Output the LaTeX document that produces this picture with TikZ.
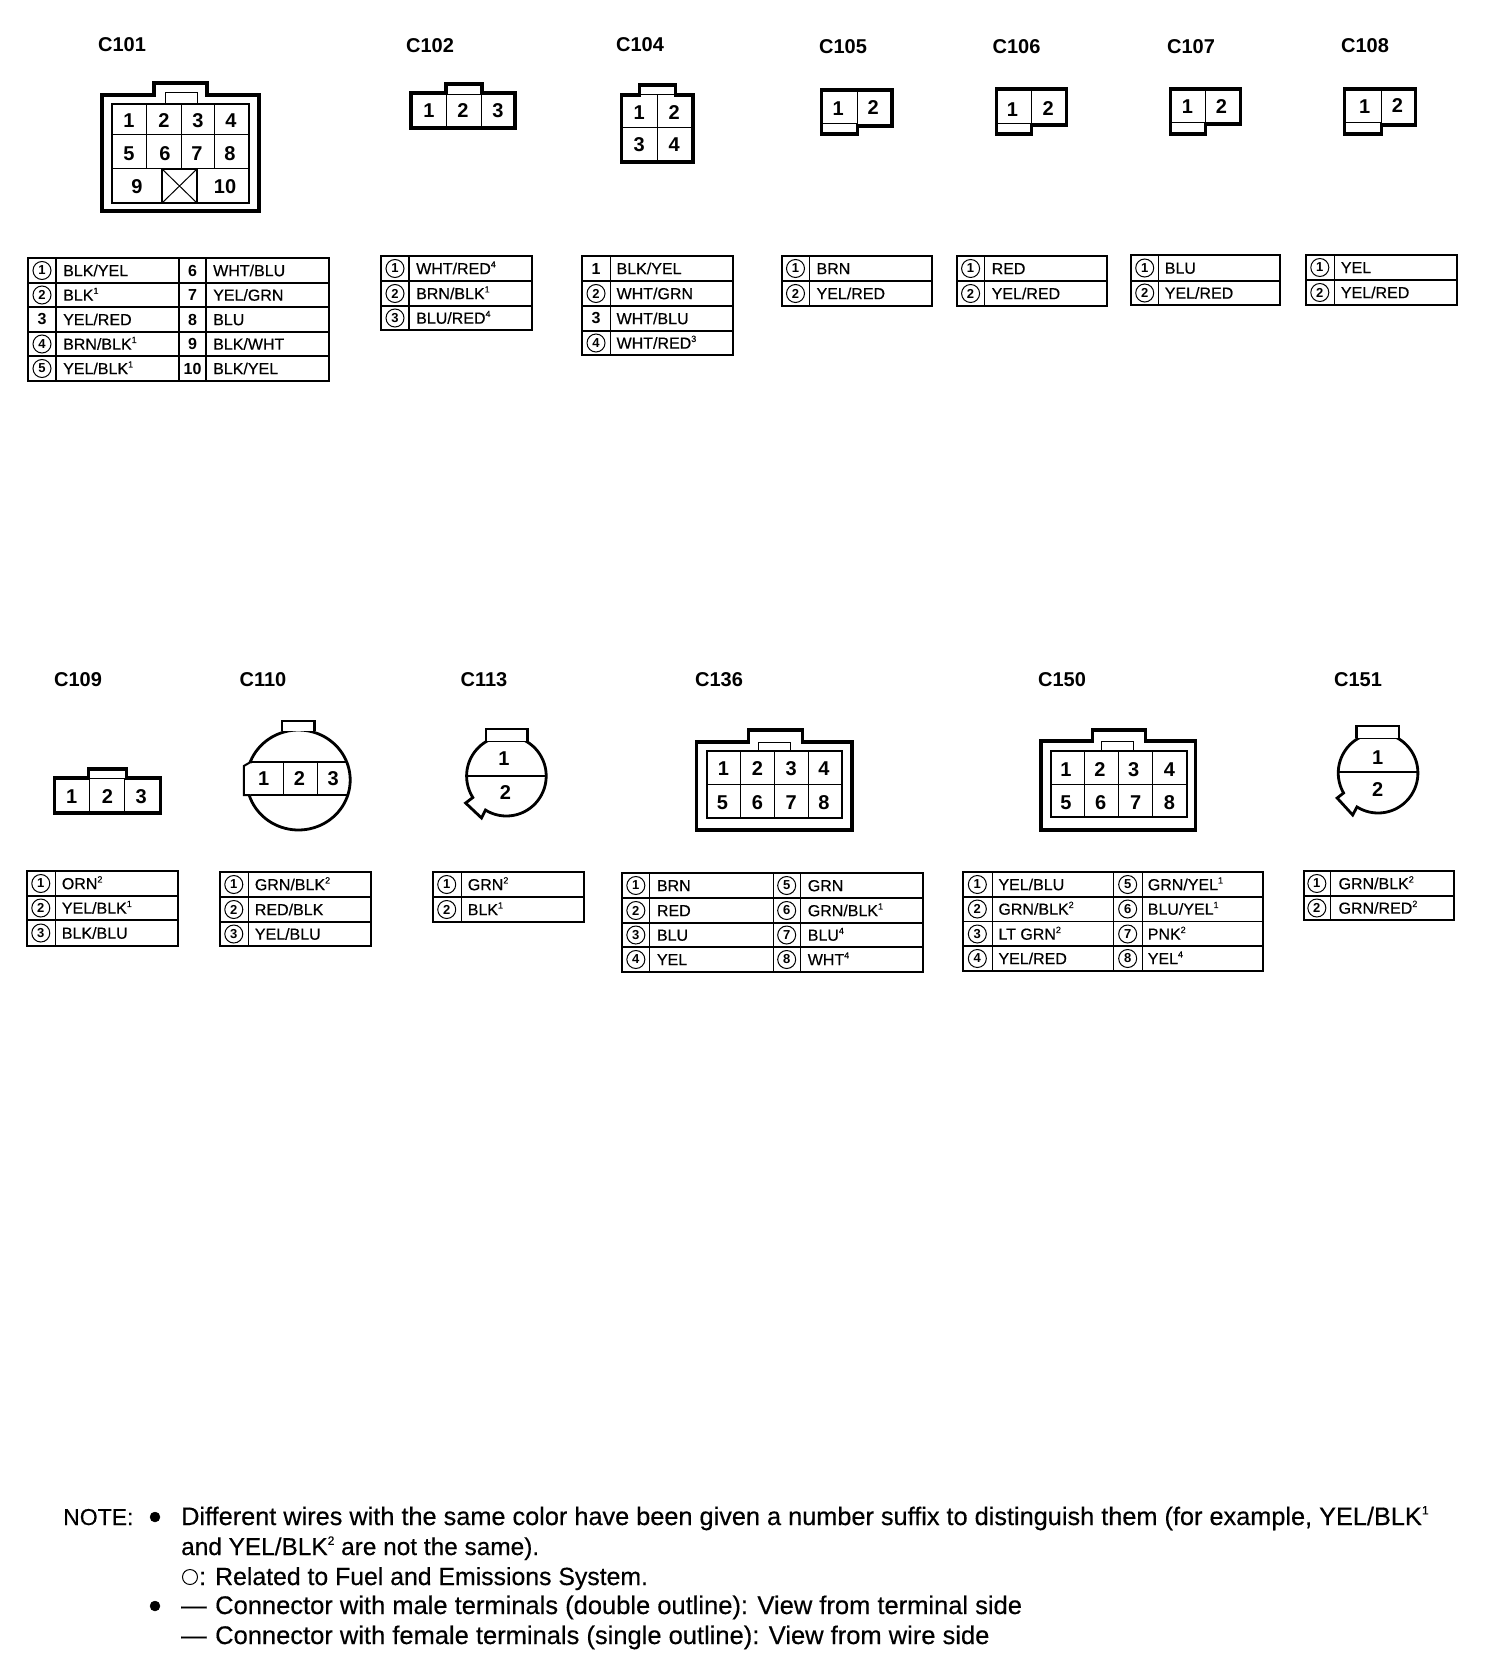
\documentclass[tikz,border=0pt]{standalone}
\usepackage{fontspec}
\setmainfont{Liberation Sans}
\newfontfamily\scanfont[FakeBold=0.4]{Liberation Sans}
\tikzset{
 x=1pt,y=-1pt,
 conlabel/.style={font=\fontsize{20}{20}\selectfont\bfseries,inner sep=0},
 pinnum/.style={font=\fontsize{20}{20}\selectfont\bfseries,inner sep=0},
 wiretext/.style={font=\fontsize{16}{16}\scanfont\selectfont,inner sep=0,anchor=base west},
 circnum/.style={draw,circle,line width=1pt,minimum size=18pt,inner sep=0,font=\fontsize{13}{13}\selectfont\bfseries},
 plainnum/.style={inner sep=0,font=\fontsize{16}{16}\selectfont\bfseries},
 notetext/.style={inner sep=0,anchor=base west},
 outl/.style={line width=3.2pt,line join=miter},
 midl/.style={line width=2pt},
 roundl/.style={line width=2.8pt,line join=miter},
 thinl/.style={line width=1pt},
 tabouter/.style={line width=2pt},
 tabrow/.style={line width=1.5pt},
 tabcol/.style={line width=1.2pt},
}
\newcommand\notefont[1]{\fontsize{#1}{#1}\scanfont\selectfont}
% table frame: x0,y0,x1,y1,{row ys},{column xs}
\newcommand\wgrid[6]{%
 \foreach \yy in {#5}{\draw[tabrow] (#1,\yy) -- (#3,\yy);}
 \foreach \xx in {#6}{\draw[tabcol] (\xx,#2) -- (\xx,#4);}
 \draw[tabouter] (#1,#2) rectangle (#3,#4);}
% row: prefix, num x, text x, mid y, num style, num, text
\newcommand\wrow[7]{%
 \node[#5] (#1n#6) at (#2,#4) {#6};
 \node[wiretext] (#1w#6) at (#3,#4+5.7) {#7};}
\newcommand\pin[4]{\node[pinnum] (#1) at (#2,#3+1) {#4};}
\newcommand\sps[1]{\raisebox{0.42em}{\fontsize{9}{9}\selectfont #1}}
\newcommand\spn[1]{\raisebox{0.42em}{\fontsize{12}{12}\selectfont #1}}
\begin{document}
\begin{tikzpicture}
\useasboundingbox (0,0) rectangle (1504,1672);
% ---- labels
\node[conlabel] (lC101) at (122,45) {C101};
\node[conlabel] (lC102) at (430,46) {C102};
\node[conlabel] (lC104) at (640,45) {C104};
\node[conlabel] (lC105) at (843,47) {C105};
\node[conlabel] (lC106) at (1016.5,47) {C106};
\node[conlabel] (lC107) at (1191,47) {C107};
\node[conlabel] (lC108) at (1365,46) {C108};
\node[conlabel] (lC109) at (78,680) {C109};
\node[conlabel] (lC110) at (263,680) {C110};
\node[conlabel] (lC113) at (484,680) {C113};
\node[conlabel] (lC136) at (719,680) {C136};
\node[conlabel] (lC150) at (1062,680) {C150};
\node[conlabel] (lC151) at (1358,680) {C151};

% ---- C101 connector
\draw[outl] (102,95)--(154,95)--(154,83)--(207,83)--(207,95)--(259,95)--(259,211)--(102,211)--cycle;
\draw[thinl] (165,104)--(165,93)--(197,93)--(197,104);
\draw[midl] (112,104) rectangle (249,203);
\draw[thinl] (112,135)--(249,135) (112,169)--(249,169);
\draw[thinl] (146,104)--(146,169) (181,104)--(181,169) (214,104)--(214,169);
\draw[midl] (162,169) rectangle (197,203);
\draw[thinl] (162,169)--(197,203) (197,169)--(162,203);
\pin{c101a}{129}{120}{1}\pin{c101b}{164}{120}{2}\pin{c101c}{198}{120}{3}\pin{c101d}{231}{120}{4}
\pin{c101e}{129}{153}{5}\pin{c101f}{165}{153}{6}\pin{c101g}{197}{153}{7}\pin{c101h}{230}{153}{8}
\pin{c101i}{137}{186}{9}\pin{c101j}{225}{186}{10}
% C101 table
\wgrid{28}{258}{329}{381}{283,307,332,356}{56,179,206}
\wrow{t101}{42}{63}{270.5}{circnum}{1}{BLK/YEL}
\wrow{t101}{42}{63}{295}{circnum}{2}{BLK\sps{1}}
\wrow{t101}{42}{63}{319.5}{plainnum}{3}{YEL/RED}
\wrow{t101}{42}{63}{344}{circnum}{4}{BRN/BLK\sps{1}}
\wrow{t101}{42}{63}{368.5}{circnum}{5}{YEL/BLK\sps{1}}
\wrow{t101}{192.5}{213}{270.5}{plainnum}{6}{WHT/BLU}
\wrow{t101}{192.5}{213}{295}{plainnum}{7}{YEL/GRN}
\wrow{t101}{192.5}{213}{319.5}{plainnum}{8}{BLU}
\wrow{t101}{192.5}{213}{344}{plainnum}{9}{BLK/WHT}
\wrow{t101}{192.5}{213}{368.5}{plainnum}{10}{BLK/YEL}

% ---- C102
\draw[outl] (411,93)--(446,93)--(446,84)--(482,84)--(482,93)--(515,93)--(515,128)--(411,128)--cycle;
\draw[thinl] (446,95)--(482,95) (446,93)--(446,128) (481,93)--(481,128);
\pin{c102a}{429}{110}{1}\pin{c102b}{463}{110}{2}\pin{c102c}{498}{110}{3}
\wgrid{381}{256}{532}{330}{281,306}{409}
\wrow{t102}{395}{416}{268.5}{circnum}{1}{WHT/RED\sps{4}}
\wrow{t102}{395}{416}{293.5}{circnum}{2}{BRN/BLK\sps{1}}
\wrow{t102}{395}{416}{318}{circnum}{3}{BLU/RED\sps{4}}

\begin{scope}[x=0.9949pt,xshift=2.55pt]
% ---- C104
\draw[outl] (622,95)--(640,95)--(640,85)--(676,85)--(676,95)--(694,95)--(694,162)--(622,162)--cycle;
\draw[thinl] (640,95)--(676,95) (622,128)--(694,128) (658,95)--(658,162);
\pin{c104a}{640}{112}{1}\pin{c104b}{675}{112}{2}\pin{c104c}{640}{144}{3}\pin{c104d}{675}{144}{4}
\wgrid{582}{256}{734}{355}{281,306,331}{611}
\wrow{t104}{596.5}{617}{268.5}{plainnum}{1}{BLK/YEL}
\wrow{t104}{596.5}{617}{293.5}{circnum}{2}{WHT/GRN}
\wrow{t104}{596.5}{617}{318.5}{plainnum}{3}{WHT/BLU}
\wrow{t104}{596.5}{617}{343}{circnum}{4}{WHT/RED\sps{3}}

% ---- C105
\draw[outl] (823,90)--(894,90)--(894,126)--(859,126)--(859,134)--(823,134)--cycle;
\draw[thinl] (859,90)--(859,126) (823,124)--(859,124);
\pin{c105a}{840}{108}{1}\pin{c105b}{875}{107}{2}
\wgrid{783}{256}{934}{306}{281}{811}
\wrow{t105}{797}{818}{268.5}{circnum}{1}{BRN}
\wrow{t105}{797}{818}{293.5}{circnum}{2}{YEL/RED}

% ---- C106
\draw[outl] (999,89)--(1069,89)--(1069,125)--(1034,125)--(1034,134)--(999,134)--cycle;
\draw[thinl] (1034,89)--(1034,125) (999,124)--(1034,124);
\pin{c106a}{1015}{109}{1}\pin{c106b}{1051}{108}{2}
\wgrid{959}{256}{1110}{306}{281}{987}
\wrow{t106}{973}{994}{268.5}{circnum}{1}{RED}
\wrow{t106}{973}{994}{293.5}{circnum}{2}{YEL/RED}

% ---- C107
\draw[outl] (1174,89)--(1244,89)--(1244,124)--(1209,124)--(1209,134)--(1174,134)--cycle;
\draw[thinl] (1209,89)--(1209,124) (1174,123)--(1209,123);
\pin{c107a}{1191}{106}{1}\pin{c107b}{1225}{106}{2}
\wgrid{1134}{255}{1284}{305}{281}{1161.5}
\wrow{t107}{1148}{1168}{268}{circnum}{1}{BLU}
\wrow{t107}{1148}{1168}{293}{circnum}{2}{YEL/RED}

% ---- C108
\draw[outl] (1349,89)--(1420,89)--(1420,125)--(1386,125)--(1386,134)--(1349,134)--cycle;
\draw[thinl] (1386,89)--(1386,125) (1349,123)--(1386,123);
\pin{c108a}{1369}{106}{1}\pin{c108b}{1402}{105}{2}
\wgrid{1310}{255}{1462}{305}{280}{1338.5}
\wrow{t108}{1324}{1345}{267.5}{circnum}{1}{YEL}
\wrow{t108}{1324}{1345}{292.5}{circnum}{2}{YEL/RED}
\end{scope}

\begin{scope}[x=0.9949pt]
% ---- C109
\draw[outl] (55,778)--(89,778)--(89,769)--(127,769)--(127,778)--(161,778)--(161,813)--(55,813)--cycle;
\draw[thinl] (90,778)--(126,778) (90,778)--(90,813) (125,778)--(125,813);
\pin{c109a}{72}{796}{1}\pin{c109b}{108}{796}{2}\pin{c109c}{142}{796}{3}
\wgrid{27}{871}{179}{946}{896,920}{56}
\wrow{t109}{41}{62}{883.5}{circnum}{1}{ORN\sps{2}}
\wrow{t109}{41}{62}{908}{circnum}{2}{YEL/BLK\sps{1}}
\wrow{t109}{41}{62}{933}{circnum}{3}{BLK/BLU}

% ---- C110
\draw[roundl,fill=white] plot[domain=0:360,samples=90] ({300+52*cos(\x)},{780+50*sin(\x)}) -- cycle;
\draw[roundl,fill=white] (283.5,731)--(283.5,721)--(316,721)--(316,731);
\fill[white] (246,763) rectangle (252,794);
\draw[midl] (252,762)--(245,766)--(245,795)--(252,795);
\draw[midl] (252,762)--(350,762) (252,795)--(349,795);
\draw[thinl] (285,762)--(285,795) (319,762)--(319,795);
\pin{c110a}{265}{778}{1}\pin{c110b}{301}{778}{2}\pin{c110c}{335}{778}{3}
\wgrid{221}{872}{373}{946}{897,922}{250}
\wrow{t110}{235}{256}{884.5}{circnum}{1}{GRN/BLK\sps{2}}
\wrow{t110}{235}{256}{909.5}{circnum}{2}{RED/BLK}
\wrow{t110}{235}{256}{934}{circnum}{3}{YEL/BLU}

% ---- C113
\draw[roundl,fill=white] plot[domain=147.5:481.7,samples=90] ({509+40*cos(\x)},{776+40*sin(\x)}) -- (484,818) -- (468,803) -- cycle;
\draw[roundl,fill=white] (488.5,741)--(488.5,729)--(530,729)--(530,741);
\draw[thinl] (488.5,741)--(530,741);
\draw[line width=1.5pt] (469,776)--(549,776);
\pin{c113a}{506.5}{758}{1}\pin{c113b}{508}{792}{2}
\wgrid{435}{872}{586.5}{922}{897}{463.5}
\wrow{t113}{449}{470}{884.5}{circnum}{1}{GRN\sps{2}}
\wrow{t113}{449}{470}{909.5}{circnum}{2}{BLK\sps{1}}
\end{scope}

\begin{scope}[x=0.9956pt,xshift=2.64pt]
% ---- C136
\draw[outl] (697,742)--(749.5,742)--(749.5,730)--(803,730)--(803,742)--(853,742)--(853,830)--(697,830)--cycle;
\draw[thinl] (759,751)--(759,742)--(791,742)--(791,751);
\draw[midl] (707,751) rectangle (843,818);
\draw[thinl] (707,784)--(843,784) (741,751)--(741,818) (775.5,751)--(775.5,818) (809,751)--(809,818);
\pin{c136a}{724}{768}{1}\pin{c136b}{758}{768}{2}\pin{c136c}{792}{768}{3}\pin{c136d}{825}{768}{4}
\pin{c136e}{723}{802}{5}\pin{c136f}{758}{802}{6}\pin{c136g}{792}{802}{7}\pin{c136h}{825}{802}{8}
\wgrid{622}{873}{924.5}{972}{898,923,947}{650,774,801}
\wrow{t136}{636}{657}{885.5}{circnum}{1}{BRN}
\wrow{t136}{636}{657}{910.5}{circnum}{2}{RED}
\wrow{t136}{636}{657}{935}{circnum}{3}{BLU}
\wrow{t136}{636}{657}{959.5}{circnum}{4}{YEL}
\wrow{t136}{787.5}{808.5}{885.5}{circnum}{5}{GRN}
\wrow{t136}{787.5}{808.5}{910.5}{circnum}{6}{GRN/BLK\sps{1}}
\wrow{t136}{787.5}{808.5}{935}{circnum}{7}{BLU\sps{4}}
\wrow{t136}{787.5}{808.5}{959.5}{circnum}{8}{WHT\sps{4}}

% ---- C150
\draw[outl] (1043,741)--(1095,741)--(1095,730)--(1147.5,730)--(1147.5,741)--(1198.5,741)--(1198.5,830)--(1043,830)--cycle;
\draw[thinl] (1104,751)--(1104,741)--(1136,741)--(1136,751);
\draw[midl] (1053,751) rectangle (1190,817);
\draw[thinl] (1053,784)--(1190,784) (1087,751)--(1087,817) (1121,751)--(1121,817) (1155,751)--(1155,817);
\pin{c150a}{1068}{769}{1}\pin{c150b}{1102}{769}{2}\pin{c150c}{1136}{769}{3}\pin{c150d}{1172}{769}{4}
\pin{c150e}{1068}{802}{5}\pin{c150f}{1103}{802}{6}\pin{c150g}{1138}{802}{7}\pin{c150h}{1172}{802}{8}
\wgrid{965}{872}{1266}{971}{897,921.5,946}{994,1115.6,1144.6}
\wrow{t150}{979}{1000}{884.5}{circnum}{1}{YEL/BLU}
\wrow{t150}{979}{1000}{909}{circnum}{2}{GRN/BLK\sps{2}}
\wrow{t150}{979}{1000}{934}{circnum}{3}{LT GRN\sps{2}}
\wrow{t150}{979}{1000}{958.5}{circnum}{4}{YEL/RED}
\wrow{t150}{1130}{1150}{884.5}{circnum}{5}{GRN/YEL\sps{1}}
\wrow{t150}{1130}{1150}{909}{circnum}{6}{BLU/YEL\sps{1}}
\wrow{t150}{1130}{1150}{934}{circnum}{7}{PNK\sps{2}}
\wrow{t150}{1130}{1150}{958.5}{circnum}{8}{YEL\sps{4}}

% ---- C151
\draw[roundl,fill=white] plot[domain=150:482,samples=90] ({1381.5+40*cos(\x)},{773+40*sin(\x)}) -- (1356,815) -- (1340.4,798) -- cycle;
\draw[roundl,fill=white] (1360,738)--(1360,726)--(1402.5,726)--(1402.5,738);
\draw[thinl] (1360,738)--(1402.5,738);
\draw[line width=1.5pt] (1341.5,772)--(1421.5,772);
\pin{c151a}{1381}{757}{1}\pin{c151b}{1381}{789}{2}
\wgrid{1307}{871}{1457.5}{920}{896}{1334}
\wrow{t151}{1320}{1341.6}{883.5}{circnum}{1}{GRN/BLK\sps{2}}
\wrow{t151}{1320}{1341.6}{908}{circnum}{2}{GRN/RED\sps{2}}
\end{scope}

% ---- note
\node[notetext,font=\notefont{23}] (nNote) at (63,1525) {NOTE:};
\node[draw,circle,fill=black,minimum size=10pt,inner sep=0] (nB1) at (155,1517) {};
\node[notetext,font=\notefont{25.3}] (nL1) at (181,1525) {Different wires with the same color have been given a number suffix to distinguish them (for example, YEL/BLK\spn{1}};
\node[notetext,font=\notefont{24.4}] (nL2) at (181,1555) {and YEL/BLK\spn{2} are not the same).};
\node[draw,circle,line width=1pt,minimum size=15pt,inner sep=0] (nO) at (190,1577) {};
\node[notetext,font=\notefont{24.8}] (nL3a) at (199,1585) {:};
\node[notetext,font=\notefont{24.8}] (nL3) at (215,1585) {Related to Fuel and Emissions System.};
\node[draw,circle,fill=black,minimum size=10pt,inner sep=0] (nB2) at (155,1606) {};
\node[notetext,font=\notefont{25.5}] (nD1) at (181,1614) {—};
\node[notetext,font=\notefont{25.5}] (nL4) at (215,1614) {Connector with male terminals (double outline): View from terminal side};
\node[notetext,font=\notefont{25.5}] (nD2) at (181,1644) {—};
\node[notetext,font=\notefont{25.5}] (nL5) at (215,1644) {Connector with female terminals (single outline): View from wire side};
\end{tikzpicture}
\end{document}
